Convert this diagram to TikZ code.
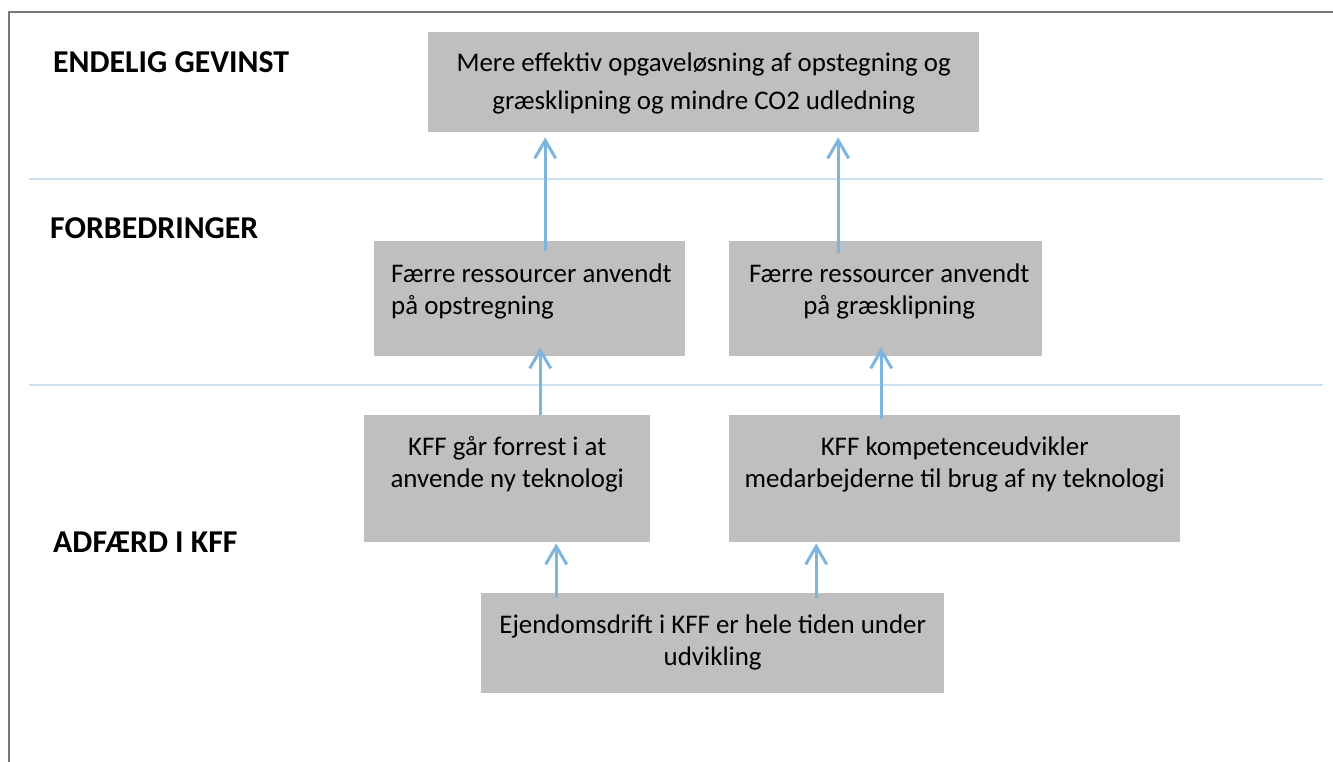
\documentclass[tikz,border=0pt]{standalone}
\usepackage{fontspec}
\setmainfont{Carlito}
\usetikzlibrary{arrows.meta}
\definecolor{boxgray}{RGB}{191,191,191}
\definecolor{arrowblue}{RGB}{125,181,222}
\definecolor{seplight}{RGB}{206,225,242}
\definecolor{framegray}{RGB}{120,120,120}
\tikzset{
  box/.style={fill=boxgray, draw=none, inner sep=0pt, anchor=north west},
  txt/.style={font=\fontsize{26.9}{32}\selectfont, inner sep=0pt, align=center, execute at begin node=\strut},
  lab/.style={font=\fontsize{31.8}{38}\selectfont\bfseries, inner sep=0pt, anchor=base west},
  arr/.style={draw=arrowblue, line width=3pt, -{Straight Barb[length=18pt,width=21pt]}},
  sep/.style={draw=seplight, line width=2pt},
  frameline/.style={draw=framegray, line width=2.5pt},
}
\begin{document}
\begin{tikzpicture}[x=1pt,y=-1pt]
\path[fill=white] (0,0) rectangle (1333,762);
\useasboundingbox (0,0) rectangle (1333,762);
\draw[frameline] (1333,12) -- (9,12) -- (9,762);
\draw[sep] (29,179) -- (1323,179);
\draw[sep] (29,385) -- (1323,385);

% labels
\node[lab] (l1) at (53,73) {ENDELIG GEVINST};
\node[lab] (l2) at (50,239) {FORBEDRINGER};
\node[lab] (l3) at (53,552) {ADFÆRD I KFF};

% boxes
\node[box, minimum width=551pt, minimum height=100pt] (n1) at (428,32) {};
\node[box, minimum width=311pt, minimum height=115pt] (n2) at (374,241) {};
\node[box, minimum width=313pt, minimum height=115pt] (n3) at (729,241) {};
\node[box, minimum width=286pt, minimum height=127pt] (n4) at (364,415) {};
\node[box, minimum width=451pt, minimum height=127pt] (n5) at (729,415) {};
\node[box, minimum width=463pt, minimum height=100pt] (n6) at (481,593) {};

% texts
\node[txt, anchor=north, yshift=-20.6pt] (t1) at (n1.north) {Mere effektiv opgaveløsning af opstegning og\\[6pt]græsklipning og mindre CO2 udledning};
\node[txt, align=left, anchor=north west, xshift=17pt, yshift=-22.6pt] (t2) at (n2.north west) {Færre ressourcer anvendt\\på opstregning};
\node[txt, anchor=north, xshift=3.5pt, yshift=-22.6pt] (t3) at (n3.north) {Færre ressourcer anvendt\\på græsklipning};
\node[txt, anchor=north, yshift=-21.6pt] (t4) at (n4.north) {KFF går forrest i at\\anvende ny teknologi};
\node[txt, anchor=north, yshift=-21.6pt] (t5) at (n5.north) {KFF kompetenceudvikler\\medarbejderne til brug af ny teknologi};
\node[txt, anchor=north, yshift=-21.6pt] (t6) at (n6.north) {Ejendomsdrift i KFF er hele tiden under\\udvikling};

% arrows
\draw[arr] ([xshift=15.5pt, yshift=-10pt]n2.north) -- ([xshift=-158.5pt, yshift=-5pt]n1.south);
\draw[arr] ([xshift=-47.5pt, yshift=-12pt]n3.north) -- ([xshift=134.5pt, yshift=-5pt]n1.south);
\draw[arr] ([xshift=33pt]n4.north) -- ([xshift=10.5pt, yshift=9pt]n2.south);
\draw[arr] ([xshift=-73.5pt, yshift=-4pt]n5.north) -- ([xshift=-4.5pt, yshift=9pt]n3.south);
\draw[arr] ([xshift=-156.5pt, yshift=-5pt]n6.north) -- ([xshift=49pt, yshift=-1pt]n4.south);
\draw[arr] ([xshift=103.5pt, yshift=-5pt]n6.north) -- ([xshift=-138.5pt, yshift=-1pt]n5.south);
\end{tikzpicture}
\end{document}
